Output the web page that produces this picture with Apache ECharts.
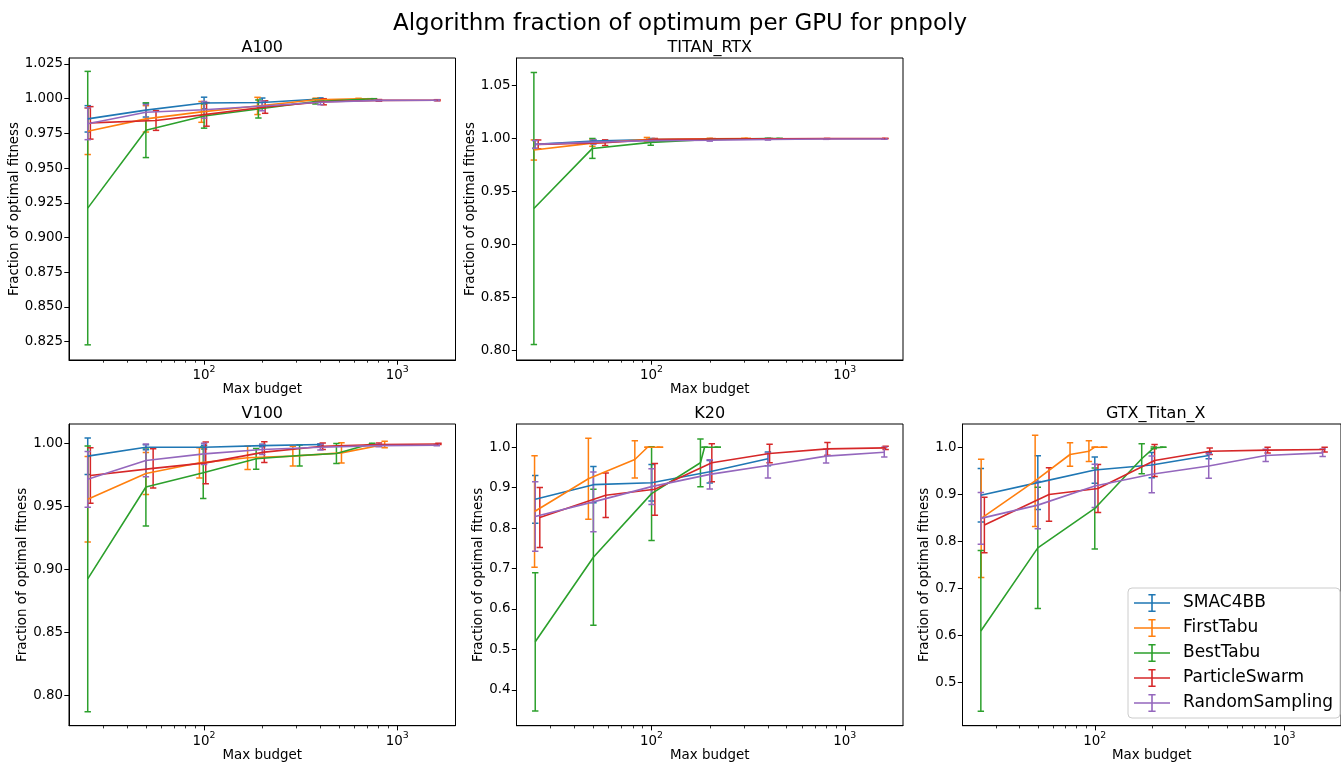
<!DOCTYPE html>
<html>
<head>
<meta charset="utf-8">
<script src="https://cdn.jsdelivr.net/npm/echarts@6/dist/echarts.min.js"></script>
<style>
html, body { margin: 0; padding: 0; background: #ffffff; }
#chart { width: 1341px; height: 763px; }
</style>
</head>
<body>
<div id="chart"></div>
<script>
// ---------------- DATA ----------------
const suptitle = 'Algorithm fraction of optimum per GPU for pnpoly';
const algorithms = ['SMAC4BB', 'FirstTabu', 'BestTabu', 'ParticleSwarm', 'RandomSampling'];
const gpuNames = ['A100', 'TITAN_RTX', 'V100', 'K20', 'GTX_Titan_X'];

// rows: [mean evaluations, mean fraction of optimum, std]
const A100_SMAC4BB = [[25, 0.9855, 0.0095], [50, 0.9918, 0.005], [100, 0.9969, 0.0042], [200, 0.9973, 0.0032], [400, 0.9998, 0.0008]];
const A100_FirstTabu = [[25, 0.9765, 0.0167], [50, 0.9855, 0.0095], [97, 0.9905, 0.0075], [189, 0.9948, 0.0062], [378, 0.9992, 0.0012], [630, 1.0, 0.0003], [720, 1.0, 0.0]];
const A100_BestTabu = [[25, 0.9212, 0.0985], [50, 0.9773, 0.0197], [100, 0.9875, 0.0087], [191, 0.9926, 0.0065], [377, 0.998, 0.0018], [757, 1.0, 0.0]];
const A100_ParticleSwarm = [[25.8, 0.9826, 0.0117], [56.4, 0.9843, 0.0071], [103, 0.9887, 0.0085], [207, 0.994, 0.0045], [416, 0.9978, 0.0022], [804, 0.9988, 0.0006], [1614, 0.9989, 0.0004]];
const A100_RandomSampling = [[25, 0.982, 0.0115], [50, 0.9903, 0.0055], [100, 0.992, 0.006], [200, 0.9948, 0.0035], [400, 0.9975, 0.0018], [800, 0.9988, 0.0004], [1600, 0.9989, 0.0003]];

const TITAN_RTX_SMAC4BB = [[25, 0.9944, 0.0038], [50, 0.9975, 0.0015], [100, 0.999, 0.001], [200, 0.9994, 0.0004], [400, 0.9998, 0.0002]];
const TITAN_RTX_FirstTabu = [[24.6, 0.9891, 0.0095], [49.4, 0.9956, 0.003], [94.6, 0.999, 0.002], [200, 0.9998, 0.0004], [302, 1.0, 0.0], [315, 1.0, 0.0]];
const TITAN_RTX_BestTabu = [[24.6, 0.9338, 0.1286], [49.4, 0.9906, 0.0094], [99, 0.9963, 0.0027], [200, 0.9992, 0.0006], [400, 0.9999, 0.0002], [460, 1.0, 0.0]];
const TITAN_RTX_ParticleSwarm = [[25.9, 0.9944, 0.0042], [57.5, 0.996, 0.0027], [104, 0.999, 0.001], [207, 0.9995, 0.0004], [410, 0.9998, 0.0002], [810, 0.9999, 0.0001], [1620, 1.0, 0.0001]];
const TITAN_RTX_RandomSampling = [[25, 0.9944, 0.0037], [50, 0.9966, 0.002], [100, 0.998, 0.0012], [200, 0.9983, 0.0008], [400, 0.999, 0.0005], [800, 0.9995, 0.0003], [1600, 0.9995, 0.0002]];

const V100_SMAC4BB = [[25, 0.99, 0.0145], [50, 0.9971, 0.002], [100, 0.9971, 0.0015], [200, 0.9984, 0.001], [400, 0.9992, 0.0007]];
const V100_FirstTabu = [[25, 0.9558, 0.034], [50, 0.9763, 0.0167], [94.6, 0.9847, 0.012], [168, 0.9887, 0.0092], [288, 0.99, 0.0079], [514, 0.9926, 0.008], [860, 0.9992, 0.0026]];
const V100_BestTabu = [[25, 0.8926, 0.1055], [50, 0.9655, 0.031], [99, 0.9768, 0.0205], [186, 0.9879, 0.0082], [312, 0.9905, 0.0083], [484, 0.9921, 0.008], [741, 1.0, 0.0003]];
const V100_ParticleSwarm = [[25.8, 0.9747, 0.022], [54.5, 0.9803, 0.0155], [102, 0.9847, 0.0165], [205, 0.9932, 0.0082], [411, 0.9979, 0.0026], [804, 0.9992, 0.0012], [1633, 0.9997, 0.0005]];
const V100_RandomSampling = [[25, 0.9716, 0.0222], [50, 0.9866, 0.013], [100, 0.9918, 0.0084], [200, 0.9953, 0.004], [400, 0.9971, 0.0023], [800, 0.9984, 0.001], [1600, 0.9987, 0.0005]];

const K20_SMAC4BB = [[25, 0.8713, 0.059], [50, 0.9074, 0.045], [100, 0.9123, 0.045], [200, 0.9393, 0.028], [400, 0.9713, 0.017]];
const K20_FirstTabu = [[24.8, 0.841, 0.138], [47.1, 0.9221, 0.1], [81.9, 0.9697, 0.046], [95.3, 1.0, 0.0], [110.5, 1.0, 0.0]];
const K20_BestTabu = [[25, 0.5189, 0.171], [50, 0.7279, 0.168], [100, 0.8852, 0.116], [179, 0.9615, 0.059], [188, 1.0, 0.0], [220, 1.0, 0.0]];
const K20_ParticleSwarm = [[26.4, 0.8262, 0.074], [57.9, 0.8811, 0.055], [104, 0.8959, 0.064], [205, 0.9615, 0.047], [408, 0.9844, 0.023], [813, 0.9959, 0.016], [1626, 0.9984, 0.004]];
const K20_RandomSampling = [[25, 0.8287, 0.086], [50, 0.8648, 0.074], [100, 0.9025, 0.044], [200, 0.9328, 0.036], [400, 0.9549, 0.031], [800, 0.9779, 0.017], [1600, 0.9877, 0.012]];

const GTX_Titan_X_SMAC4BB = [[25, 0.8979, 0.057], [50, 0.9246, 0.057], [100, 0.9514, 0.028], [200, 0.962, 0.027], [400, 0.9824, 0.007]];
const GTX_Titan_X_FirstTabu = [[25.1, 0.8486, 0.126], [48.4, 0.9282, 0.097], [74, 0.9845, 0.025], [93.1, 0.9915, 0.022], [100, 1.0, 0.0], [112, 1.0, 0.0]];
const GTX_Titan_X_BestTabu = [[25, 0.6092, 0.171], [50, 0.7859, 0.129], [100, 0.8697, 0.086], [177, 0.9754, 0.032], [205, 0.9986, 0.002], [230, 1.0, 0.0]];
const GTX_Titan_X_ParticleSwarm = [[26.1, 0.8345, 0.059], [57.3, 0.8993, 0.057], [104, 0.912, 0.051], [207, 0.9718, 0.034], [405, 0.9915, 0.007], [819, 0.9937, 0.006], [1639, 0.995, 0.005]];
const GTX_Titan_X_RandomSampling = [[25, 0.8486, 0.055], [50, 0.8768, 0.05], [100, 0.9176, 0.046], [200, 0.9423, 0.039], [400, 0.9599, 0.026], [800, 0.9824, 0.013], [1600, 0.988, 0.008]];

// tick values
const xMajorTicks = [100, 1000];
const xMinorTicks = [30, 40, 50, 60, 70, 80, 90, 200, 300, 400, 500, 600, 700, 800, 900];
const A100_yTicks = [0.825, 0.85, 0.875, 0.9, 0.925, 0.95, 0.975, 1.0, 1.025];
const TITAN_RTX_yTicks = [0.80, 0.85, 0.90, 0.95, 1.00, 1.05];
const V100_yTicks = [0.80, 0.85, 0.90, 0.95, 1.00];
const K20_yTicks = [0.4, 0.5, 0.6, 0.7, 0.8, 0.9, 1.0];
const GTX_Titan_X_yTicks = [0.5, 0.6, 0.7, 0.8, 0.9, 1.0];

const panelData = [
  [A100_SMAC4BB, A100_FirstTabu, A100_BestTabu, A100_ParticleSwarm, A100_RandomSampling],
  [TITAN_RTX_SMAC4BB, TITAN_RTX_FirstTabu, TITAN_RTX_BestTabu, TITAN_RTX_ParticleSwarm, TITAN_RTX_RandomSampling],
  [V100_SMAC4BB, V100_FirstTabu, V100_BestTabu, V100_ParticleSwarm, V100_RandomSampling],
  [K20_SMAC4BB, K20_FirstTabu, K20_BestTabu, K20_ParticleSwarm, K20_RandomSampling],
  [GTX_Titan_X_SMAC4BB, GTX_Titan_X_FirstTabu, GTX_Titan_X_BestTabu, GTX_Titan_X_ParticleSwarm, GTX_Titan_X_RandomSampling]
];
const panelTicks = [A100_yTicks, TITAN_RTX_yTicks, V100_yTicks, K20_yTicks, GTX_Titan_X_yTicks];

// ---------------- LAYOUT / STYLE ----------------
const FONT = '"DejaVu Sans", sans-serif';
const COLORS = ['#1f77b4', '#ff7f0e', '#2ca02c', '#d62728', '#9467bd'];
const X_MIN = 20, X_MAX = 2000;
const PLOT_W = 386.5;
const layout = [
  { left: 69,    top: 58,  height: 302, yMin: 0.81178, yMax: 1.02933, dec: 3, nameGap: 42.5 },
  { left: 516.5, top: 58,  height: 302, yMin: 0.79057, yMax: 1.0761,  dec: 2, nameGap: 36.3 },
  { left: 69,    top: 424, height: 304, yMin: 0.77605, yMax: 1.01553, dec: 2, nameGap: 35.3 },
  { left: 516.5, top: 424, height: 304, yMin: 0.31148, yMax: 1.05738, dec: 1, nameGap: 27 },
  { left: 962.5, top: 424, height: 304, yMin: 0.40762, yMax: 1.04936, dec: 1, nameGap: 27 }
];

function errRenderer(color) {
  return function (params, api) {
    const x = api.value(0);
    const a = api.coord([x, api.value(1)]);
    const b = api.coord([x, api.value(2)]);
    const cw = 3.2;
    const st = { stroke: color, lineWidth: 1.5, fill: null };
    return {
      type: 'group',
      children: [
        { type: 'line', shape: { x1: a[0], y1: a[1], x2: b[0], y2: b[1] }, style: st },
        { type: 'line', shape: { x1: a[0] - cw, y1: a[1], x2: a[0] + cw, y2: a[1] }, style: st },
        { type: 'line', shape: { x1: b[0] - cw, y1: b[1], x2: b[0] + cw, y2: b[1] }, style: st }
      ]
    };
  };
}

const titles = [{
  text: suptitle, left: 680, top: 12.4, textAlign: 'center', padding: 0,
  textStyle: { fontFamily: FONT, fontSize: 23, lineHeight: 23, fontWeight: 'normal', color: '#000' }
}];
const grids = [], xAxes = [], yAxes = [], series = [];

layout.forEach(function (L, i) {
  grids.push({ left: L.left, top: L.top, width: PLOT_W, height: L.height, show: true,
    borderColor: '#000', borderWidth: 1, backgroundColor: 'transparent' });
  titles.push({ text: gpuNames[i], left: L.left + PLOT_W / 2, top: L.top - 18.5, textAlign: 'center', padding: 0,
    textStyle: { fontFamily: FONT, fontSize: 16, lineHeight: 16, fontWeight: 'normal', color: '#000' } });
  xAxes.push({
    gridIndex: i, type: 'log', logBase: 10, min: X_MIN, max: X_MAX, position: 'bottom',
    name: 'Max budget', nameLocation: 'middle', nameGap: 22,
    nameTextStyle: { fontFamily: FONT, fontSize: 13.4, lineHeight: 13.4, color: '#000' },
    axisLine: { show: true, onZero: false, lineStyle: { color: '#000', width: 1 } },
    axisTick: { show: true, inside: false, length: 4.7, customValues: xMajorTicks, lineStyle: { color: '#000', width: 1 } },
    axisLabel: {
      show: true, customValues: xMajorTicks, margin: 5,
      formatter: function (v) { return '{b|10}{s|' + Math.round(Math.log10(v)) + '}'; },
      rich: {
        b: { fontFamily: FONT, fontSize: 13.4, color: '#000', lineHeight: 17, verticalAlign: 'bottom' },
        s: { fontFamily: FONT, fontSize: 9.4, color: '#000', lineHeight: 10, verticalAlign: 'top' }
      }
    },
    splitLine: { show: false }, minorTick: { show: false }, minorSplitLine: { show: false }
  });
  xAxes.push({
    gridIndex: i, type: 'log', logBase: 10, min: X_MIN, max: X_MAX, position: 'bottom',
    axisLine: { show: false, onZero: false },
    axisTick: { show: true, inside: false, length: 2.7, customValues: xMinorTicks, lineStyle: { color: '#000', width: 0.8 } },
    axisLabel: { show: false },
    splitLine: { show: false }
  });
  yAxes.push({
    gridIndex: i, type: 'value', min: L.yMin, max: L.yMax, position: 'left',
    name: 'Fraction of optimal fitness', nameLocation: 'middle', nameRotate: 90, nameGap: L.nameGap,
    nameTextStyle: { fontFamily: FONT, fontSize: 13.4, lineHeight: 13.4, color: '#000' },
    axisLine: { show: true, onZero: false, lineStyle: { color: '#000', width: 1 } },
    axisTick: { show: true, inside: false, length: 4.7, customValues: panelTicks[i], lineStyle: { color: '#000', width: 1 } },
    axisLabel: {
      show: true, customValues: panelTicks[i], margin: 6,
      fontFamily: FONT, fontSize: 13.4, color: '#000',
      formatter: (function (dec) { return function (v) { return Number(v).toFixed(dec); }; })(L.dec)
    },
    splitLine: { show: false }
  });
  algorithms.forEach(function (alg, j) {
    const rows = panelData[i][j];
    series.push({
      type: 'line', name: alg, xAxisIndex: 2 * i, yAxisIndex: i,
      data: rows.map(function (r) { return [r[0], r[1]]; }),
      showSymbol: false, symbol: 'none', silent: true, animation: false,
      lineStyle: { color: COLORS[j], width: 1.6 }, itemStyle: { color: COLORS[j] }
    });
    series.push({
      type: 'custom', name: alg, xAxisIndex: 2 * i, yAxisIndex: i,
      data: rows.map(function (r) { return [r[0], r[1] - r[2], r[1] + r[2]]; }),
      encode: { x: 0, y: [1, 2] }, renderItem: errRenderer(COLORS[j]),
      silent: true, animation: false, clip: true, itemStyle: { color: COLORS[j] }
    });
  });
});

const ERR_ICON = 'path://M0,8.2L36,8.2L36,9.8L0,9.8Z M17.2,0L18.8,0L18.8,18L17.2,18Z M14.4,0L21.6,0L21.6,1.5L14.4,1.5Z M14.4,16.5L21.6,16.5L21.6,18L14.4,18Z';

const option = {
  animation: false,
  backgroundColor: '#ffffff',
  title: titles,
  grid: grids,
  xAxis: xAxes,
  yAxis: yAxes,
  legend: {
    show: true, orient: 'vertical', left: 1128, top: 588,
    data: algorithms.map(function (n) { return { name: n, icon: ERR_ICON }; }),
    itemWidth: 36, itemHeight: 18, itemGap: 7,
    padding: [6, 7, 6, 6],
    backgroundColor: '#ffffff', borderColor: '#cccccc', borderWidth: 1, borderRadius: 4,
    selectedMode: false,
    itemStyle: { borderWidth: 0 },
    textStyle: { fontFamily: FONT, fontSize: 17, color: '#000', padding: [0, 0, 0, 8] }
  },
  series: series
};

const chart = echarts.init(document.getElementById('chart'), null, { renderer: 'canvas', width: 1341, height: 763 });
chart.setOption(option);
</script>
</body>
</html>
